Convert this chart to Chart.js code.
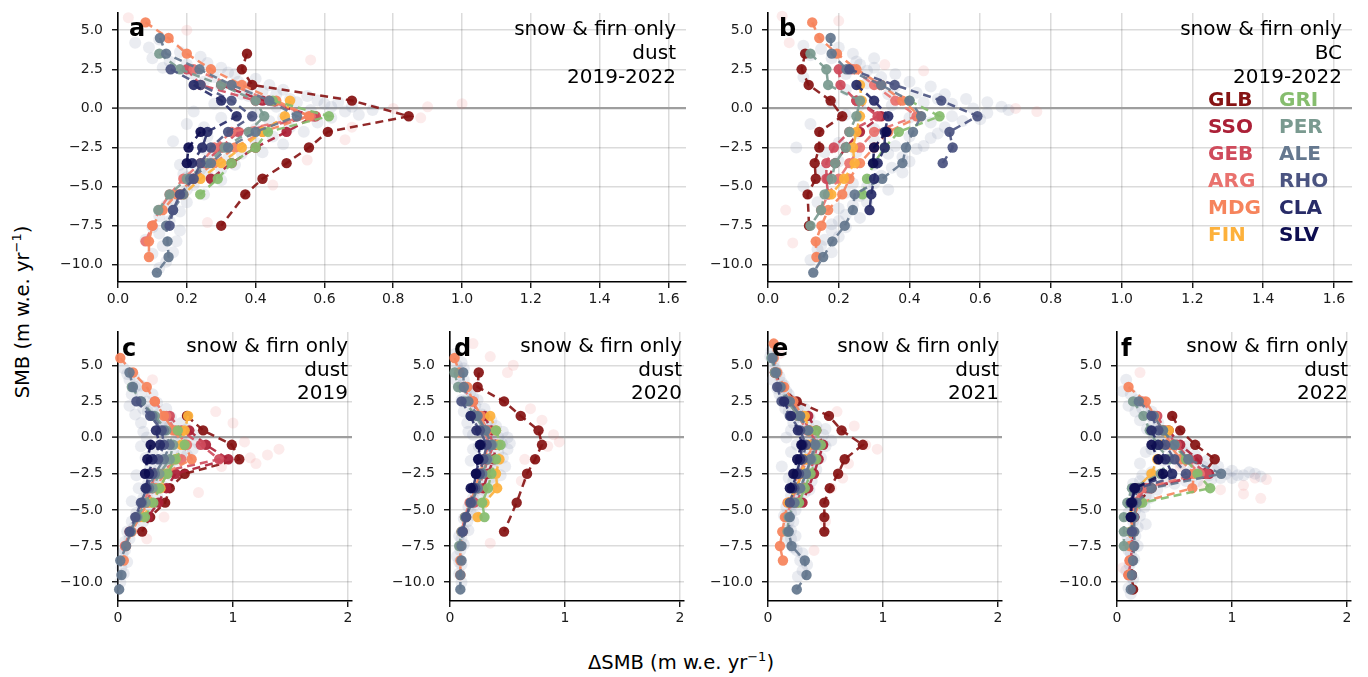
<!DOCTYPE html>
<html>
<head>
<meta charset="utf-8">
<script src="https://cdn.jsdelivr.net/npm/chart.js@4.4.1/dist/chart.umd.min.js"></script>
<style>
  html, body { margin:0; padding:0; background:#fff; }
  #wrap { position:relative; width:1368px; height:677px; background:#fff; overflow:hidden; font-family:'DejaVu Sans', sans-serif; }
  #wrap canvas { position:absolute; }
  .info { position:absolute; text-align:right; font-size:20px; line-height:24px; color:#000; white-space:nowrap; }
  .info.low { line-height:23.5px; }
  .letter { position:absolute; font-size:24px; line-height:24px; font-weight:bold; color:#000; }
  .leg { position:absolute; font-size:20px; line-height:24px; font-weight:bold; white-space:nowrap; }
  .axt { position:absolute; font-size:19.5px; white-space:nowrap; color:#000; transform:translate(-50%,-50%); }
  .axt sup { font-size:13px; vertical-align:8px; line-height:0; }
</style>
</head>
<body>
<div id="wrap">
  <div class="letter" style="left:129px;top:16px;">a</div>
  <div class="info" style="right:692px;top:16px;">snow &amp; firn only<br>dust<br>2019-2022</div>
  <div class="letter" style="left:779px;top:16px;">b</div>
  <div class="info" style="right:26px;top:16px;">snow &amp; firn only<br>BC<br>2019-2022</div>
  <div class="letter" style="left:122px;top:336px;">c</div>
  <div class="info low" style="right:1020px;top:334px;">snow &amp; firn only<br>dust<br>2019</div>
  <div class="letter" style="left:454px;top:336px;">d</div>
  <div class="info low" style="right:686px;top:334px;">snow &amp; firn only<br>dust<br>2020</div>
  <div class="letter" style="left:772px;top:336px;">e</div>
  <div class="info low" style="right:369px;top:334px;">snow &amp; firn only<br>dust<br>2021</div>
  <div class="letter" style="left:1121px;top:336px;">f</div>
  <div class="info low" style="right:20px;top:334px;">snow &amp; firn only<br>dust<br>2022</div>
  <div class="axt" style="left:22px;top:312px;transform:translate(-50%,-50%) rotate(-90deg);">SMB (m w.e. yr<sup>−1</sup>)</div>
  <div class="axt" style="left:681px;top:662px;">ΔSMB (m w.e. yr<sup>−1</sup>)</div>
  <div id="legend"></div>
</div>
<script>
const _ = null;
const glaciers = ['GLB','SSO','GEB','ARG','MDG','FIN','GRI','PER','ALE','RHO','CLA','SLV'];
const glacierColors = ['#861313','#ab2037','#cf4b5c','#e9726e','#f6845c','#fdb13c','#86bd6e','#7a9a90','#65788f','#4b5481','#282c68','#0d0d50'];
const smbBins = [6.5,5.5,4.5,3.5,2.5,1.5,0.5,-0.5,-1.5,-2.5,-3.5,-4.5,-5.5,-6.5,-7.5,-8.5,-9.5,-10.5];
const yTickValues = [5,2.5,0,-2.5,-5,-7.5,-10];
const xTicksTop = [0,0.2,0.4,0.6,0.8,1.0,1.2,1.4,1.6];
const xTicksBottom = [0,1,2];

// ΔSMB per SMB bin, one row per glacier (order as in `glaciers`)
const dSMB_a = [
 [_,_,_,0.375,0.36,0.39,0.68,0.845,0.61,0.555,0.49,0.42,0.37,_,0.30,_,_,_],
 [_,_,_,_,_,0.30,0.42,0.57,0.49,0.40,0.33,0.27,_,_,_,_,_,_],
 [_,_,_,_,0.20,0.24,0.40,0.575,0.35,0.30,0.25,0.22,0.18,_,_,_,_,_],
 [_,_,_,_,0.22,0.33,0.44,0.56,0.33,0.28,0.24,0.19,0.15,0.12,0.10,0.08,_,_],
 [_,0.08,0.147,0.20,0.27,0.36,0.46,0.555,0.42,0.34,0.28,0.22,0.17,0.13,0.10,0.09,0.09,_],
 [_,_,_,_,_,_,0.50,0.485,0.42,0.36,0.30,0.24,0.19,_,_,_,_,_],
 [_,_,_,_,_,_,0.45,0.613,0.436,0.40,0.33,0.29,0.239,_,_,_,_,_],
 [_,_,_,0.12,0.18,0.30,0.40,0.425,0.38,0.31,0.26,0.20,0.15,0.117,_,_,_,_],
 [_,_,0.122,0.14,0.237,0.33,0.44,0.52,0.40,0.32,0.27,0.21,0.19,0.16,0.14,0.144,0.147,0.113],
 [_,_,_,_,0.153,0.24,0.33,0.39,0.32,0.27,0.24,0.22,0.18,0.16,0.15,_,_,_],
 [_,_,_,_,_,0.22,0.30,0.345,0.26,0.245,0.215,_,_,_,_,_,_,_],
 [_,_,_,_,_,_,_,_,0.24,0.205,0.20,_,_,_,_,_,_,_]
];
const dSMB_b = [
 [_,_,_,0.105,0.095,0.115,0.177,0.21,0.145,0.145,0.132,0.135,0.112,_,0.116,_,_,_],
 [_,_,_,_,_,_,0.25,0.32,0.26,0.22,0.19,0.17,_,_,_,_,_,_],
 [_,_,_,_,0.20,0.205,0.25,0.31,0.23,0.186,0.165,0.165,0.17,_,_,_,_,_],
 [_,_,_,_,0.24,0.30,0.36,0.42,0.30,0.26,0.23,0.20,0.17,0.15,_,_,_,_],
 [_,0.125,0.145,0.195,0.25,0.32,0.38,0.43,0.34,0.30,0.26,0.23,0.21,0.17,0.151,0.135,0.137,_],
 [_,_,_,_,_,0.26,0.265,0.26,0.25,0.24,0.245,0.215,0.179,_,_,_,_,_],
 [_,_,_,_,_,_,0.40,0.485,0.37,0.33,0.30,0.28,0.267,_,_,_,_,_],
 [_,_,_,0.12,0.165,0.17,0.26,0.25,0.23,0.22,0.19,0.18,0.16,0.15,0.12,_,_,_],
 [_,_,0.177,0.18,0.222,0.32,0.40,0.433,0.41,0.39,0.38,0.323,0.245,0.24,0.217,0.182,0.156,0.128],
 [_,_,_,_,0.23,0.358,0.49,0.592,0.513,0.522,0.494,_,_,_,_,_,_,_],
 [_,_,_,_,_,0.25,0.30,0.34,0.33,0.33,0.31,0.30,0.292,0.287,_,_,_,_],
 [_,_,_,_,_,_,_,_,0.335,0.30,0.297,_,_,_,_,_,_,_]
];
const dSMB_c = [
 [_,_,_,_,_,0.60,0.74,0.99,1.055,0.58,0.45,0.41,0.28,0.21,_,_,_,_],
 [_,_,_,_,_,_,0.62,0.765,0.96,0.50,0.42,0.35,0.26,_,_,_,_,_],
 [_,_,_,_,_,0.45,0.55,0.72,0.88,0.30,0.30,0.25,_,_,_,_,_,_],
 [_,_,_,_,0.32,0.42,0.50,0.60,0.55,0.33,0.28,0.22,0.16,0.10,0.06,_,_,_],
 [_,0.02,0.13,0.25,0.32,0.40,0.48,0.58,0.64,0.40,0.33,0.26,0.19,0.12,0.07,0.05,_,_],
 [_,_,_,_,_,0.61,0.58,0.55,0.50,0.42,0.37,0.29,0.22,_,_,_,_,_],
 [_,_,_,_,_,_,0.52,0.58,0.50,0.43,0.36,0.307,0.235,_,_,_,_,_],
 [_,_,_,0.12,0.20,0.32,0.42,0.48,0.45,0.36,0.30,0.24,0.17,0.11,_,_,_,_],
 [_,_,0.10,0.13,0.20,0.30,0.40,0.45,0.40,0.32,0.27,0.21,0.16,0.11,0.07,0.02,0.03,0.01],
 [_,_,_,_,0.16,0.28,0.38,0.40,0.35,0.30,0.25,0.20,0.15,0.10,_,_,_,_],
 [_,_,_,_,_,_,0.33,0.365,0.30,0.27,0.24,_,_,_,_,_,_,_],
 [_,_,_,_,_,_,_,0.284,0.255,0.235,_,_,_,_,_,_,_,_]
];
const dSMB_d = [
 [_,_,0.25,0.24,0.47,0.615,0.77,0.80,0.74,0.67,_,0.58,_,0.47,_,_,_,_],
 [_,_,_,_,_,0.30,0.36,0.40,0.38,0.33,0.29,_,_,_,_,_,_,_],
 [_,_,_,_,0.20,0.25,0.33,0.38,0.33,0.29,0.25,0.21,_,_,_,_,_,_],
 [_,_,_,0.12,0.18,0.24,0.30,0.34,0.29,0.25,0.21,0.17,0.13,0.10,_,_,_,_],
 [_,0.04,0.08,0.15,0.20,0.27,0.32,0.36,0.30,0.26,0.22,0.18,0.14,0.11,0.09,0.09,0.09,_],
 [_,_,_,_,_,0.35,0.40,0.42,0.43,0.40,0.41,0.30,0.24,_,_,_,_,_],
 [_,_,_,_,_,_,0.40,0.44,0.40,0.36,0.33,0.28,0.30,_,_,_,_,_],
 [_,_,0.04,0.07,0.13,0.22,0.30,0.37,0.33,0.28,0.24,0.18,0.13,0.10,0.08,_,_,_],
 [_,_,0.115,0.12,0.16,0.24,0.31,0.36,0.32,0.28,0.24,0.19,0.14,0.11,0.10,0.10,0.09,0.09],
 [_,_,_,_,0.10,0.18,0.26,0.32,0.29,0.26,0.22,0.18,0.14,0.11,_,_,_,_],
 [_,_,_,_,_,0.18,0.23,0.27,0.25,0.23,0.20,_,_,_,_,_,_,_],
 [_,_,_,_,_,_,_,0.26,0.245,0.225,0.18,_,_,_,_,_,_,_]
];
const dSMB_e = [
 [_,_,0.06,0.12,0.25,0.53,0.64,0.825,0.667,0.61,0.537,0.49,0.49,0.49,_,_,_,_],
 [_,_,_,_,_,0.35,0.42,0.48,0.44,0.40,0.35,0.30,_,_,_,_,_,_],
 [_,_,_,_,0.20,0.30,0.36,0.43,0.40,0.36,0.30,0.25,_,_,_,_,_,_],
 [_,_,0.06,0.10,0.18,0.26,0.34,0.38,0.34,0.29,0.25,0.20,0.16,_,_,_,_,_],
 [0.05,0.05,0.08,0.14,0.22,0.30,0.35,0.40,0.33,0.27,0.21,0.17,0.147,0.124,0.104,0.13,_,_],
 [_,_,_,_,_,0.32,0.36,0.35,0.32,0.30,0.24,0.18,_,_,_,_,_,_],
 [_,_,_,_,_,_,0.42,0.46,0.42,0.37,0.32,0.27,_,_,_,_,_,_],
 [_,0.03,0.06,0.10,0.17,0.26,0.35,0.42,0.38,0.33,0.28,0.23,0.18,0.17,_,_,_,_],
 [_,0.04,0.07,0.11,0.19,0.28,0.35,0.41,0.37,0.33,0.28,0.23,0.19,0.18,0.205,0.32,0.335,0.25],
 [_,_,_,0.08,0.118,0.19,0.28,0.33,0.30,0.27,0.23,0.19,_,_,_,_,_,_],
 [_,_,_,_,0.14,0.20,0.26,0.30,0.28,0.25,0.21,_,_,_,_,_,_,_],
 [_,_,_,_,_,_,_,0.29,0.254,0.22,0.19,_,_,_,_,_,_,_]
];
const dSMB_f = [
 [_,_,_,_,_,0.48,0.55,0.68,0.85,0.75,0.30,0.18,0.15,0.14,0.14,0.13,0.13,0.14],
 [_,_,_,_,_,_,0.45,0.55,0.70,0.80,0.28,0.17,0.15,0.14,0.14,0.13,0.12,_],
 [_,_,_,_,_,0.35,0.42,0.52,0.63,0.78,0.25,0.15,0.14,0.13,0.13,0.12,0.10,_],
 [_,_,_,_,0.22,0.32,0.40,0.48,0.60,0.72,0.22,0.15,0.13,0.12,0.12,0.11,_,_],
 [_,_,_,0.10,0.25,0.33,0.40,0.46,0.55,0.67,0.655,0.20,0.14,0.12,0.11,0.11,0.10,_],
 [_,_,_,_,_,_,0.45,0.38,0.35,0.30,0.17,0.12,0.12,_,_,_,_,_],
 [_,_,_,_,_,_,0.40,0.50,0.60,0.70,0.81,0.22,0.14,0.12,_,_,_,_],
 [_,_,_,_,0.14,0.23,0.285,0.35,0.45,0.38,0.13,0.09,0.06,0.06,0.06,_,_,_],
 [_,_,_,_,0.19,0.32,0.40,0.50,0.62,0.906,0.30,0.17,0.15,0.15,0.15,0.14,0.13,0.12],
 [_,_,_,_,_,0.30,0.36,0.42,0.50,0.60,0.18,0.14,0.13,0.13,_,_,_,_],
 [_,_,_,_,_,_,0.30,0.36,0.42,0.48,0.15,0.12,0.12,_,_,_,_,_],
 [_,_,_,_,_,_,_,0.30,0.36,0.40,0.156,0.13,0.12,_,_,_,_,_]
];

const cloudBlue_a = [[0.05,4.2],[0.09,3.9],[0.1,3.2],[0.15,3.0],[0.2,2.8],[0.22,2.2],[0.28,2.0],[0.3,2.6],[0.35,1.7],[0.4,1.9],[0.42,1.1],[0.48,1.2],[0.5,0.6],[0.55,0.8],[0.6,0.3],[0.62,0.1],[0.66,-0.2],[0.7,-0.4],[0.74,-0.1],[0.58,-0.9],[0.5,-1.2],[0.45,-1.8],[0.4,-2.2],[0.36,-2.9],[0.32,-3.2],[0.3,-3.9],[0.26,-4.2],[0.22,-4.9],[0.2,-5.2],[0.16,-5.8],[0.14,-6.2],[0.12,-6.9],[0.15,-7.2],[0.12,-8.0],[0.13,-8.8],[0.16,-9.2],[0.14,-9.8],[0.25,-1.2],[0.3,-0.6],[0.28,0.3],[0.35,-1.5],[0.38,0.8],[0.44,-0.8],[0.25,-2.6],[0.18,-3.6],[0.34,2.2],[0.46,0.1],[0.52,-0.3],[0.2,-4.4],
 [0.12,4.4],[0.18,3.6],[0.24,3.3],[0.13,2.6],[0.26,2.9],[0.32,2.3],[0.25,1.7],[0.3,1.4],[0.38,1.4],[0.44,1.5],[0.36,0.9],[0.46,0.9],[0.52,0.4],[0.58,0.5],[0.64,0.4],[0.68,0.1],[0.56,-0.1],[0.62,-0.6],[0.48,-0.6],[0.4,-0.3],[0.54,-1.5],[0.4,-1.3],[0.48,-2.3],[0.42,-2.8],[0.3,-2.5],[0.34,-3.6],[0.28,-3.0],[0.26,-3.4],[0.24,-3.9],[0.3,-4.6],[0.25,-5.5],[0.19,-4.2],[0.2,-6.0],[0.18,-6.6],[0.1,-7.6],[0.18,-7.8],[0.08,-8.4],[0.17,-8.5],[0.1,-9.3],[0.12,-10.2],[0.22,-0.2],[0.2,-1.0],[0.26,-1.8],[0.16,-2.1]];
const cloudPink_a = [[0.9,0.1],[1.0,0.3],[0.88,-0.6],[0.66,-2.0],[0.55,-3.3],[0.45,-4.9],[0.26,-7.3],[0.03,5.8],[0.2,5.0],[0.8,0.0],[0.56,3.1],[0.68,-1.2]];
const cloudBlue_b = [[0.1,4.0],[0.15,3.8],[0.2,3.9],[0.25,3.0],[0.28,2.4],[0.32,2.0],[0.36,1.4],[0.42,1.0],[0.48,0.6],[0.52,0.3],[0.58,0.0],[0.62,-0.3],[0.66,0.1],[0.55,-0.8],[0.5,-1.2],[0.46,-1.9],[0.42,-2.6],[0.38,-3.1],[0.35,-3.8],[0.32,-4.3],[0.28,-5.0],[0.26,-5.6],[0.24,-6.2],[0.22,-6.8],[0.2,-7.2],[0.18,-7.8],[0.16,-8.4],[0.14,-9.0],[0.12,-9.7],[0.3,-2.0],[0.25,-2.8],[0.2,-3.4],[0.15,-4.0],[0.12,-1.0],[0.18,0.4],[0.22,1.2],[0.1,2.0],[0.08,-2.5],[0.1,-5.0],[0.35,0.2],[0.4,-0.6],[0.3,-1.3],[0.26,2.8],
 [0.12,3.4],[0.18,3.2],[0.24,3.5],[0.3,3.2],[0.22,2.2],[0.3,2.6],[0.36,2.2],[0.4,1.7],[0.46,1.4],[0.28,1.6],[0.34,0.9],[0.44,0.4],[0.5,0.9],[0.56,0.6],[0.62,0.4],[0.68,-0.1],[0.6,-0.7],[0.52,-0.5],[0.46,-0.9],[0.48,-1.6],[0.4,-1.8],[0.44,-2.4],[0.36,-2.4],[0.4,-3.4],[0.34,-2.9],[0.3,-3.6],[0.38,-4.1],[0.3,-4.8],[0.34,-5.2],[0.24,-4.8],[0.22,-5.4],[0.28,-6.0],[0.2,-6.4],[0.26,-7.0],[0.18,-7.4],[0.22,-7.6],[0.2,-8.2],[0.15,-8.8],[0.18,-9.2],[0.14,-9.5],[0.25,-1.6],[0.2,-2.2],[0.16,-2.8],[0.22,-0.4],[0.26,0.2],[0.14,-6.0]];
const cloudPink_b = [[0.76,-0.2],[0.7,0.0],[0.04,5.9],[0.06,4.2],[0.05,-6.5],[0.33,2.8],[0.07,-8.6],[0.2,5.6],[0.44,2.4]];
const cloudBlue_c = [[0.05,4.8],[0.1,4.0],[0.15,3.5],[0.2,3.0],[0.25,2.5],[0.3,2.0],[0.35,1.6],[0.4,1.2],[0.45,0.8],[0.5,0.4],[0.55,0.0],[0.6,-0.4],[0.65,-0.8],[0.55,-1.2],[0.45,-1.8],[0.4,-2.3],[0.35,-2.9],[0.3,-3.4],[0.25,-4.0],[0.2,-4.6],[0.16,-5.2],[0.12,-5.8],[0.08,-6.5],[0.06,-7.2],[0.04,-8.0],[0.03,-9.0],[0.02,-10.0],[0.1,2.2],[0.2,1.0],[0.25,0.0],[0.3,-1.0],[0.28,-2.0],[0.18,-3.5],[0.12,3.0],[0.22,2.0],[0.38,-0.2],[0.48,-1.0],[0.35,0.5],
 [0.08,4.4],[0.14,4.2],[0.2,3.6],[0.3,3.0],[0.34,2.4],[0.26,1.8],[0.42,2.0],[0.46,1.4],[0.38,0.8],[0.55,1.0],[0.6,0.6],[0.66,0.2],[0.5,-0.4],[0.7,-0.4],[0.6,-1.2],[0.5,-1.6],[0.4,-1.4],[0.36,-2.2],[0.46,-2.6],[0.32,-2.8],[0.4,-3.4],[0.26,-3.2],[0.34,-4.0],[0.22,-4.2],[0.28,-4.8],[0.18,-5.4],[0.22,-5.8],[0.14,-6.2],[0.1,-7.0],[0.06,-7.8],[0.08,-8.6],[0.05,-9.4],[0.15,1.6],[0.22,0.4],[0.2,-0.6],[0.24,-1.4],[0.16,-2.6],[0.12,-4.4]];
const cloudPink_c = [[1.3,-1.2],[1.4,-0.8],[1.2,-1.8],[1.1,-0.3],[0.9,-2.0],[1.0,1.0],[0.85,1.8],[0.7,-3.8],[0.4,-5.5],[0.25,-7.0],[1.15,-1.4],[0.3,4.0]];
const cloudBlue_d = [[0.05,5.8],[0.1,5.2],[0.08,4.6],[0.12,4.0],[0.15,3.4],[0.2,2.8],[0.22,2.2],[0.28,1.6],[0.32,1.0],[0.38,0.4],[0.42,0.0],[0.45,-0.4],[0.42,-1.0],[0.4,-1.6],[0.38,-2.2],[0.35,-2.8],[0.3,-3.4],[0.26,-4.0],[0.22,-4.6],[0.18,-5.2],[0.15,-5.8],[0.12,-6.4],[0.1,-7.0],[0.09,-7.8],[0.08,-8.6],[0.08,-9.4],[0.15,1.0],[0.2,0.2],[0.25,-0.6],[0.5,-0.8],[0.48,-2.0],[0.1,2.6],[0.18,-1.6],[0.3,0.6],
 [0.06,5.0],[0.12,4.8],[0.05,4.0],[0.1,3.6],[0.18,3.2],[0.14,2.6],[0.24,2.6],[0.2,1.8],[0.3,2.0],[0.26,1.2],[0.36,1.2],[0.3,0.2],[0.4,0.8],[0.46,0.4],[0.5,0.0],[0.36,-0.4],[0.52,-0.4],[0.34,-1.2],[0.46,-1.4],[0.3,-2.0],[0.44,-2.6],[0.28,-2.8],[0.38,-3.2],[0.24,-3.6],[0.32,-3.8],[0.2,-4.2],[0.28,-4.6],[0.16,-4.8],[0.22,-5.4],[0.12,-5.6],[0.16,-6.4],[0.08,-6.8],[0.12,-7.4],[0.06,-8.2],[0.1,-8.8],[0.1,-10.0],[0.12,1.8],[0.16,0.4],[0.2,-0.8]];
const cloudPink_d = [[0.9,0.2],[0.85,-0.6],[0.8,1.2],[0.7,2.0],[0.62,-3.0],[0.2,6.5],[0.35,5.6],[0.5,4.5],[0.35,-7.3],[0.65,-1.5],[0.95,-0.3],[0.55,5.0]];
const cloudBlue_e = [[0.03,6.0],[0.05,5.2],[0.08,4.5],[0.12,3.8],[0.16,3.2],[0.2,2.6],[0.26,2.0],[0.3,1.4],[0.35,0.8],[0.4,0.2],[0.45,-0.3],[0.42,-1.0],[0.4,-1.6],[0.36,-2.2],[0.33,-2.8],[0.3,-3.4],[0.26,-4.0],[0.22,-4.6],[0.2,-5.2],[0.18,-5.8],[0.17,-6.4],[0.2,-7.0],[0.25,-7.8],[0.28,-8.5],[0.3,-9.2],[0.15,2.0],[0.2,0.5],[0.25,-0.5],[0.28,-1.8],[0.5,0.6],[0.55,-0.2],[0.12,-2.0],[0.1,3.0],[0.36,-3.6],[0.22,-3.0],
 [0.02,5.6],[0.06,4.8],[0.1,4.2],[0.04,4.0],[0.14,3.6],[0.08,3.4],[0.18,3.0],[0.12,2.6],[0.24,2.4],[0.18,1.8],[0.32,2.0],[0.26,1.4],[0.36,1.4],[0.3,0.6],[0.42,0.8],[0.34,0.0],[0.48,0.2],[0.36,-0.8],[0.5,-0.6],[0.46,-1.4],[0.32,-1.4],[0.42,-2.2],[0.28,-2.4],[0.38,-3.0],[0.24,-3.4],[0.32,-3.8],[0.2,-4.0],[0.28,-4.4],[0.16,-4.8],[0.24,-5.0],[0.14,-5.4],[0.22,-5.8],[0.2,-6.4],[0.24,-6.8],[0.16,-7.2],[0.22,-7.6],[0.3,-8.0],[0.34,-8.8],[0.26,-9.6],[0.22,1.0],[0.16,0.0],[0.2,-1.0],[0.18,-2.8]];
const cloudPink_e = [[0.85,-0.5],[0.95,-0.8],[0.7,-1.8],[0.65,-2.8],[0.6,1.8],[0.5,-5.8],[0.4,-7.8],[0.55,-3.5],[0.75,0.8],[0.1,5.8]];
const cloudBlue_f = [[0.08,4.0],[0.12,3.0],[0.18,2.6],[0.22,2.0],[0.28,1.5],[0.32,1.0],[0.38,0.5],[0.42,0.0],[0.5,-0.5],[0.58,-1.0],[0.65,-1.5],[0.75,-2.0],[0.85,-2.3],[0.95,-2.5],[1.05,-2.6],[1.15,-2.4],[0.9,-2.8],[0.7,-3.0],[0.5,-3.2],[0.35,-3.6],[0.25,-4.0],[0.2,-4.5],[0.16,-5.0],[0.14,-5.8],[0.13,-6.5],[0.12,-7.2],[0.12,-8.0],[0.11,-8.8],[0.12,-9.6],[0.1,-10.4],[0.3,-0.8],[0.4,-1.6],[0.6,-2.6],[0.2,-3.0],[0.25,-6.0],[1.25,-2.7],[0.8,-2.6],[0.3,-2.4],[0.18,-7.5],
 [0.05,3.2],[0.1,2.2],[0.16,1.8],[0.24,2.4],[0.2,1.2],[0.3,1.8],[0.26,0.6],[0.36,1.0],[0.32,0.0],[0.44,0.4],[0.4,-0.6],[0.52,-0.2],[0.48,-1.2],[0.6,-0.6],[0.56,-1.8],[0.68,-1.2],[0.66,-2.2],[0.78,-1.6],[0.72,-2.5],[0.88,-2.0],[1.0,-2.3],[1.0,-2.8],[1.1,-2.6],[1.2,-2.5],[0.82,-2.9],[0.6,-3.0],[0.42,-3.1],[0.3,-3.2],[0.22,-3.4],[0.15,-3.8],[0.28,-4.2],[0.18,-4.0],[0.12,-4.6],[0.24,-4.8],[0.2,-5.4],[0.1,-5.2],[0.18,-6.2],[0.09,-6.8],[0.16,-6.8],[0.1,-7.8],[0.15,-8.4],[0.08,-9.2],[0.14,-9.8],[0.12,-10.8],[0.22,-2.6],[0.14,-3.2],[0.35,-2.8],[0.45,-2.5],[0.2,-1.8],[0.25,-1.0]];
const cloudPink_f = [[1.3,-2.9],[1.2,-2.8],[0.9,-3.6],[0.75,-3.3],[0.2,4.5],[0.05,-9.0],[1.1,-3.3],[1.25,-4.2],[1.1,-3.9],[0.55,-2.0]];

const panels = [
  { id:'a', rows:dSMB_a, blue:cloudBlue_a, pink:cloudPink_a, L:118, T:13, R:686, B:282, xMax:1.651, yMin:-11.1, yMax:6.1, xTicks:xTicksTop, dec:1 },
  { id:'b', rows:dSMB_b, blue:cloudBlue_b, pink:cloudPink_b, L:768, T:13, R:1352, B:282, xMax:1.651, yMin:-11.1, yMax:6.1, xTicks:xTicksTop, dec:1 },
  { id:'c', rows:dSMB_c, blue:cloudBlue_c, pink:cloudPink_c, L:118, T:332, R:352, B:601, xMax:2.035, yMin:-11.3, yMax:7.3, xTicks:xTicksBottom, dec:0 },
  { id:'d', rows:dSMB_d, blue:cloudBlue_d, pink:cloudPink_d, L:450, T:332, R:684, B:601, xMax:2.035, yMin:-11.3, yMax:7.3, xTicks:xTicksBottom, dec:0 },
  { id:'e', rows:dSMB_e, blue:cloudBlue_e, pink:cloudPink_e, L:768, T:332, R:1002, B:601, xMax:2.035, yMin:-11.3, yMax:7.3, xTicks:xTicksBottom, dec:0 },
  { id:'f', rows:dSMB_f, blue:cloudBlue_f, pink:cloudPink_f, L:1117, T:332, R:1351, B:601, xMax:2.035, yMin:-11.3, yMax:7.3, xTicks:xTicksBottom, dec:0 }
];

// legend in panel b
const legendCols = [1208, 1279];
const legendRowsY = [99,126,153,180,207,234];
const legendDiv = document.getElementById('legend');
glaciers.forEach((g, i) => {
  const d = document.createElement('div');
  d.className = 'leg';
  d.textContent = g;
  d.style.color = glacierColors[i];
  d.style.left = legendCols[Math.floor(i / 6)] + 'px';
  d.style.top = (legendRowsY[i % 6] - 12) + 'px';
  legendDiv.appendChild(d);
});

const YW = 66, XH = 30, PT = 22, PR = 14;
const fmtNum = (v, d) => { const s = Math.abs(v).toFixed(d); return (v < 0 ? '\u2212' : '') + s; };
const gridCol = 'rgba(0,0,0,0.14)';

panels.forEach(p => {
  const cv = document.createElement('canvas');
  const w = (p.R - p.L) + YW + PR, h = (p.B - p.T) + PT + XH;
  cv.width = w; cv.height = h;
  cv.style.left = (p.L - YW) + 'px'; cv.style.top = (p.T - PT) + 'px';
  cv.style.width = w + 'px'; cv.style.height = h + 'px';
  document.getElementById('wrap').insertBefore(cv, document.getElementById('wrap').firstChild);

  const datasets = [];
  p.rows.forEach((row, gi) => {
    const pts = [];
    row.forEach((v, bi) => { if (v !== null) pts.push({ x: v, y: smbBins[bi] }); });
    datasets.push({
      label: glaciers[gi], data: pts, showLine: true,
      borderColor: glacierColors[gi] + 'e8', backgroundColor: glacierColors[gi] + 'ee',
      borderDash: [8, 5], borderWidth: 2.5, pointRadius: 5.2, pointBorderWidth: 0,
      pointHoverRadius: 5.2, order: 30 - gi, clip: false
    });
  });
  datasets.push({ label: 'sites', data: p.blue.map(q => ({ x: q[0], y: q[1] })), showLine: false,
    backgroundColor: 'rgba(112,128,160,0.15)', borderWidth: 0, pointRadius: 6, order: 100, clip: false });
  datasets.push({ label: 'sites2', data: p.pink.map(q => ({ x: q[0], y: q[1] })), showLine: false,
    backgroundColor: 'rgba(232,112,110,0.14)', borderWidth: 0, pointRadius: 5.5, order: 101, clip: false });

  new Chart(cv, {
    type: 'scatter',
    data: { datasets },
    options: {
      responsive: false, animation: false, devicePixelRatio: 1, events: [],
      layout: { padding: { top: PT, right: PR, left: 0, bottom: 0 } },
      plugins: { legend: { display: false }, tooltip: { enabled: false } },
      scales: {
        x: {
          type: 'linear', min: 0, max: p.xMax,
          afterFit: s => { s.height = XH; },
          afterBuildTicks: s => { s.ticks = p.xTicks.map(v => ({ value: v })); },
          ticks: { font: { family: 'DejaVu Sans', size: 14 }, color: '#1a1a1a', padding: 3, maxRotation: 0,
                   callback: v => fmtNum(v, p.dec) },
          grid: { color: gridCol, lineWidth: 1.5, tickColor: '#000', tickLength: 6, tickWidth: 1.3 },
          border: { display: true, color: '#000', width: 1.6 }
        },
        y: {
          type: 'linear', min: p.yMin, max: p.yMax,
          afterFit: s => { s.width = YW; },
          afterBuildTicks: s => { s.ticks = yTickValues.map(v => ({ value: v })); },
          ticks: { font: { family: 'DejaVu Sans', size: 14 }, color: '#1a1a1a', padding: 9,
                   callback: v => fmtNum(v, 1) },
          grid: { color: c => (c.tick && c.tick.value === 0 ? '#9e9e9e' : gridCol),
                  lineWidth: c => (c.tick && c.tick.value === 0 ? 2.2 : 1.5),
                  tickColor: '#000', tickLength: 6, tickWidth: 1.3 },
          border: { display: true, color: '#000', width: 1.6 }
        }
      }
    }
  });
});
</script>
</body>
</html>
